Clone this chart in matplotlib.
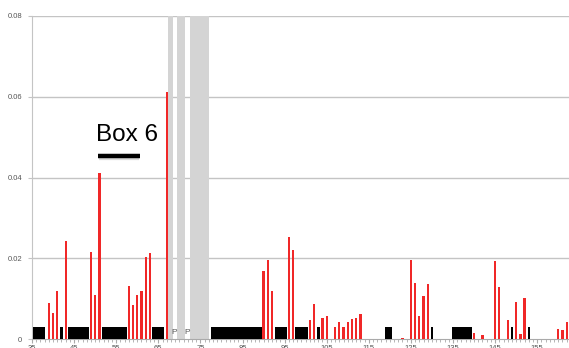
import matplotlib
matplotlib.use("Agg")
import matplotlib.pyplot as plt
from matplotlib.ticker import FixedLocator, MultipleLocator

# Red peaks: residue position and value
positions = [39, 40, 41, 43, 49, 50, 51, 58, 59, 60, 61, 62, 63, 67,
             90, 91, 92, 96, 97, 101, 102, 104, 105, 107, 108, 109, 110,
             111, 112, 113, 123, 125, 126, 127, 128, 129, 140, 142, 145,
             146, 148, 150, 151, 152, 160, 161, 162]
values = [0.009, 0.0065, 0.012, 0.0243, 0.0215, 0.011, 0.041, 0.0131,
          0.0084, 0.011, 0.0118, 0.0202, 0.0212, 0.0611,
          0.0169, 0.0195, 0.0119, 0.0253, 0.0221, 0.0047, 0.0087, 0.0052,
          0.0058, 0.003, 0.0041, 0.003, 0.0041, 0.005, 0.0053, 0.0062,
          0.0003, 0.0195, 0.0138, 0.0057, 0.0107, 0.0136, 0.0014, 0.001,
          0.0193, 0.013, 0.0047, 0.0092, 0.0012, 0.0101, 0.0025, 0.0022,
          0.0042]

# Black segments along the baseline
box_start = [35.3, 41.7, 43.5, 51.7, 63.5, 77.4, 92.8, 97.5, 102.7,
             118.9, 129.7, 134.8, 148.7, 152.7]
box_end = [38.1, 42.3, 48.5, 57.6, 66.4, 89.6, 95.5, 100.6, 103.3,
           120.4, 130.3, 139.5, 149.3, 153.3]
box_height = 0.003

# Shaded regions
band_start = [67.4, 69.5, 72.5]
band_end = [68.4, 71.3, 77.1]
p_positions = [68.8, 71.9]

x_min, x_max = 35, 162.55
y_ticks = [0, 0.02, 0.04, 0.06, 0.08]
y_labels = ["0", "0.02", "0.04", "0.06", "0.08"]
x_ticks = list(range(35, 163, 10))

FONT = ["Liberation Sans", "DejaVu Sans"]
plt.rcParams["font.family"] = FONT

fig = plt.figure(figsize=(5.69, 3.48), dpi=100)
ax = fig.add_axes([32 / 569, 9 / 348, 1 - 32 / 569, (339 - 16) / 348])

grid_c = "#c4c4c4"
for s, e in zip(band_start, band_end):
    ax.axvspan(s, e, color="#d4d4d4", lw=0, zorder=1)

for y in y_ticks[1:]:
    ax.axhline(y, color=grid_c, lw=1.0, zorder=0.5)

ax.bar(positions, values, width=0.55, color="#f02828", lw=0, zorder=3)
widths = [e - s for s, e in zip(box_start, box_end)]
ax.bar(box_start, [box_height] * len(box_start), width=widths,
       align="edge", color="black", lw=0, zorder=3)

for p in p_positions:
    ax.text(p, 0.0016, "P", ha="center", va="center", fontsize=6,
            color="#555555", zorder=4)

# Annotation label with underline
ax.text(50.1, 0.049, "Box 6", fontsize=17.5, color="black",
        ha="left", va="baseline", zorder=5)
ax.plot([50.8, 60.5], [0.0450, 0.0450], color="#bbbbbb", lw=4.5,
        alpha=0.5, solid_capstyle="butt", zorder=4)
ax.plot([50.7, 60.6], [0.0453, 0.0453], color="black", lw=3.2,
        solid_capstyle="butt", zorder=5)

ax.set_xlim(x_min, x_max)
ax.set_ylim(0, 0.08)
ax.set_yticks(y_ticks)
ax.set_yticklabels(y_labels)
ax.xaxis.set_major_locator(FixedLocator(x_ticks))
ax.xaxis.set_minor_locator(MultipleLocator(1))

for side in ["top", "right"]:
    ax.spines[side].set_visible(False)
ax.spines["left"].set_color(grid_c)
ax.spines["bottom"].set_color("#aaaaaa")
ax.spines["left"].set_zorder(0.6)

ax.tick_params(axis="y", length=3, color=grid_c, labelsize=5.5,
               labelcolor="#555555", pad=4)
ax.tick_params(axis="x", which="major", length=3, color="#aaaaaa",
               labelsize=5.5, labelcolor="#555555", pad=1)
ax.tick_params(axis="x", which="minor", length=2.5, color="#aaaaaa")

fig.savefig("out.png", dpi=100)
